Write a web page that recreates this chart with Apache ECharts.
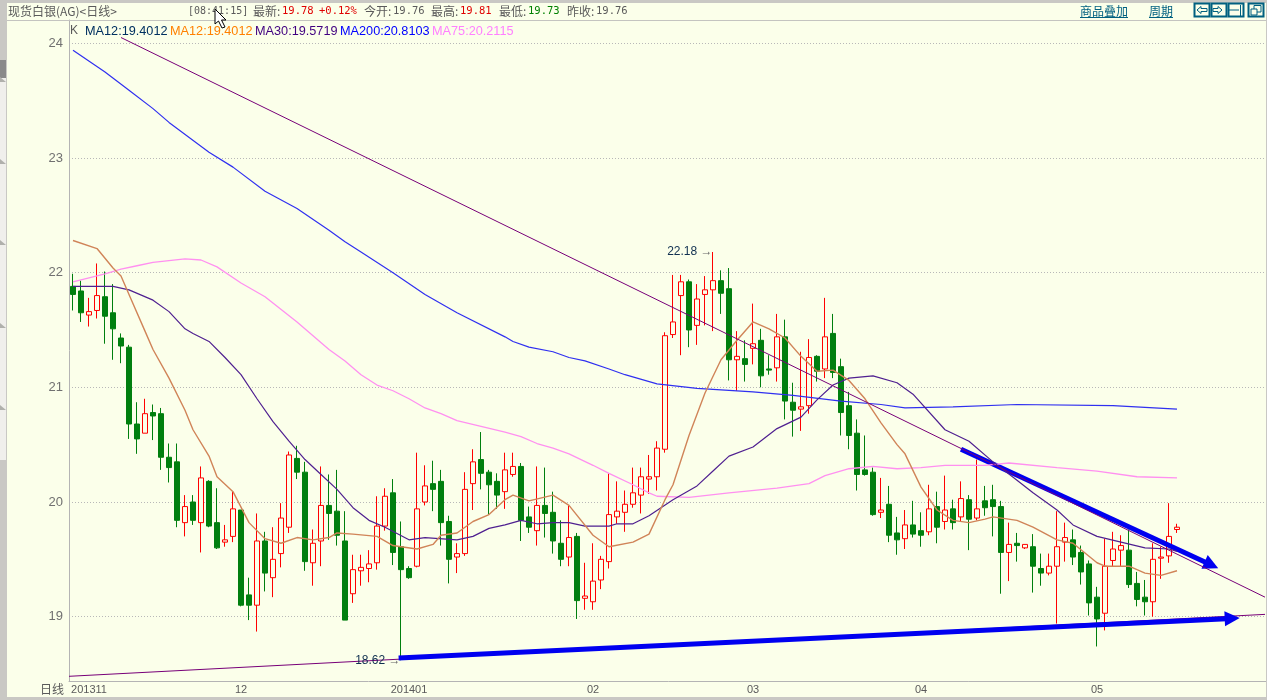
<!DOCTYPE html>
<html>
<head>
<meta charset="utf-8">
<title>现货白银(AG)</title>
<style>
  html, body { margin: 0; padding: 0; background: #c9c8c4; }
  #main { width: 1267px; height: 700px; }
</style>
<script src="https://cdn.jsdelivr.net/npm/echarts@6/dist/echarts.min.js"></script>
</head>
<body>
<div id="main"></div>
<script>
// daily candles
var opens = [21.88,21.84,21.63,21.67,21.79,21.65,21.43,21.35,20.68,20.60,20.78,20.77,20.39,20.35,19.82,20.00,19.82,20.18,19.82,19.65,19.70,19.93,19.19,19.10,19.66,19.34,19.55,19.78,20.38,20.26,19.47,19.66,19.97,19.92,19.66,19.20,19.40,19.42,19.47,19.79,20.08,19.61,19.42,19.44,20.00,20.16,20.18,19.83,19.52,19.55,20.16,20.37,20.26,20.18,20.09,20.24,20.31,19.87,19.75,19.97,19.91,19.64,19.52,19.70,19.16,19.13,19.32,19.48,19.87,19.91,19.98,20.06,20.20,20.22,20.46,21.46,21.80,21.92,21.54,21.81,21.85,21.93,21.86,21.24,21.25,21.34,21.41,21.16,21.17,21.44,20.87,20.81,20.84,21.27,21.16,21.47,21.18,20.84,20.60,20.28,20.26,19.91,19.98,19.73,19.68,19.80,19.75,19.74,19.96,19.83,19.94,19.87,20.02,19.86,20.01,20.02,19.96,19.56,19.64,19.60,19.61,19.42,19.38,19.44,19.65,19.67,19.56,19.46,19.17,19.03,19.49,19.58,19.58,19.29,19.17,19.13,19.51,19.53,19.76];
var closes = [21.81,21.65,21.66,21.80,21.62,21.51,21.36,20.68,20.55,20.77,20.75,20.39,20.30,19.84,19.96,19.84,20.21,19.79,19.60,19.67,19.94,19.10,19.10,19.66,19.38,19.50,19.86,20.41,20.26,19.48,19.64,19.97,19.90,19.71,18.97,19.41,19.43,19.46,19.79,20.05,19.56,19.41,19.34,19.94,20.14,20.11,19.82,19.50,19.55,20.11,20.35,20.25,20.15,20.06,20.28,20.31,19.84,19.78,19.97,19.90,19.66,19.50,19.69,19.14,19.18,19.31,19.50,19.89,19.92,19.98,20.08,20.22,20.22,20.47,21.45,21.57,21.92,21.50,21.77,21.85,21.93,21.82,21.24,21.27,21.20,21.38,21.10,21.15,21.44,20.88,20.80,20.83,21.26,21.14,21.44,21.13,20.78,20.58,20.24,20.24,19.89,19.93,19.71,19.67,19.80,19.72,19.71,19.94,19.78,19.93,19.82,20.03,19.85,19.94,19.95,19.96,19.56,19.63,19.62,19.63,19.44,19.38,19.44,19.61,19.69,19.52,19.39,19.12,18.98,19.44,19.59,19.62,19.28,19.15,19.13,19.50,19.52,19.70,19.78];
var lows = [21.67,21.57,21.53,21.60,21.38,21.24,21.21,20.55,20.42,20.60,20.54,20.28,20.17,19.78,19.70,19.80,19.56,19.78,19.59,19.61,19.65,19.09,18.97,18.87,19.22,19.17,19.43,19.73,20.20,19.40,19.27,19.44,19.67,19.62,18.97,19.12,19.27,19.30,19.41,19.75,19.45,18.62,19.33,19.43,19.97,19.92,19.62,19.29,19.38,19.53,19.93,20.11,19.89,19.94,19.94,20.22,19.66,19.73,19.62,19.69,19.55,19.44,19.44,18.98,19.06,19.06,19.24,19.42,19.81,19.74,19.95,19.90,20.07,20.10,20.43,21.43,21.28,21.35,21.37,21.54,21.49,21.64,21.06,20.97,21.05,21.20,21.00,21.11,21.05,20.72,20.57,20.62,20.77,21.05,21.08,21.08,20.58,20.46,20.10,20.23,19.88,19.86,19.65,19.54,19.59,19.69,19.61,19.71,19.64,19.76,19.76,19.83,19.58,19.84,19.88,19.70,19.20,19.31,19.48,19.59,19.21,19.27,19.36,18.94,19.48,19.45,19.28,19.01,18.74,18.88,19.44,19.44,19.25,19.09,19.01,19.00,19.33,19.47,19.73];
var highs = [21.99,21.93,21.78,22.08,22.01,21.90,21.47,21.37,20.87,20.90,20.85,20.82,20.51,20.51,20.06,20.06,20.31,20.19,20.12,19.80,20.09,19.93,19.34,19.90,19.74,19.78,19.99,20.44,20.49,20.35,19.76,20.31,20.24,20.28,19.92,19.54,19.54,19.58,20.05,20.12,20.20,19.83,19.44,20.43,20.32,20.36,20.28,19.88,19.64,20.26,20.46,20.61,20.28,20.25,20.43,20.43,20.34,19.96,20.31,20.30,20.09,19.84,19.97,19.73,19.47,19.64,19.53,20.25,20.18,20.10,20.30,20.30,20.41,20.53,21.48,21.98,21.98,21.94,21.90,21.97,22.18,22.02,22.04,21.49,21.41,21.73,21.51,21.28,21.64,21.59,21.04,21.31,21.42,21.28,21.78,21.64,21.25,20.96,20.72,20.58,20.30,20.21,20.14,19.87,19.93,20.01,19.91,20.15,20.09,20.23,20.02,20.18,20.06,20.37,20.14,20.15,20.01,19.82,19.73,19.63,19.72,19.55,19.55,19.92,19.82,19.76,19.62,19.49,19.26,19.68,19.74,19.71,19.76,19.39,19.32,19.64,19.61,19.99,19.81];

// moving averages, sampled by eye as [candle index, value]
var ma12 = [[0,22.28],[3,22.21],[5,22.04],[6,21.97],[7,21.81],[9,21.49],[10,21.33],[12,21.08],[14,20.80],[15,20.63],[17,20.40],[18,20.22],[20,20.09],[22,19.82],[24,19.68],[26,19.64],[28,19.69],[30,19.67],[32,19.69],[33,19.73],[35,19.72],[38,19.70],[40,19.62],[41,19.61],[43,19.59],[45,19.63],[46,19.71],[48,19.73],[50,19.83],[52,19.89],[54,20.02],[55,20.06],[57,20.01],[60,20.06],[62,19.97],[65,19.71],[67,19.61],[70,19.65],[72,19.72],[74,20.02],[75,20.15],[77,20.58],[79,20.95],[81,21.24],[83,21.41],[85,21.57],[87,21.51],[89,21.43],[91,21.27],[93,21.14],[95,21.15],[97,21.06],[99,20.90],[101,20.69],[103,20.50],[104,20.42],[106,20.13],[108,19.93],[110,19.84],[112,19.82],[114,19.85],[115,19.87],[118,19.84],[120,19.78],[123,19.67],[125,19.64],[128,19.47],[129,19.44],[132,19.44],[134,19.38],[136,19.36],[138,19.40]];
var ma30 = [[0,21.88],[5,21.88],[7,21.85],[10,21.76],[12,21.66],[14,21.51],[15,21.47],[17,21.40],[19,21.26],[21,21.11],[23,20.90],[25,20.70],[27,20.53],[29,20.37],[31,20.24],[33,20.11],[35,19.95],[37,19.84],[39,19.78],[42,19.67],[44,19.69],[48,19.67],[50,19.70],[52,19.77],[54,19.80],[56,19.84],[58,19.81],[60,19.82],[62,19.82],[64,19.79],[67,19.79],[68,19.81],[70,19.81],[72,19.88],[75,20.02],[78,20.14],[80,20.27],[82,20.40],[85,20.48],[88,20.64],[91,20.74],[93,20.89],[95,21.02],[97,21.08],[100,21.10],[103,21.04],[105,20.94],[109,20.63],[112,20.53],[115,20.35],[118,20.19],[120,20.08],[123,19.93],[125,19.80],[128,19.70],[131,19.65],[134,19.60],[137,19.59],[138,19.57]];
var ma75 = [[0,21.92],[4,21.99],[6,22.03],[8,22.06],[10,22.09],[14,22.12],[16,22.11],[18,22.05],[21,21.91],[24,21.79],[28,21.57],[32,21.33],[34,21.23],[36,21.11],[38,21.02],[40,20.97],[42,20.90],[44,20.82],[46,20.77],[48,20.71],[51,20.66],[54,20.61],[56,20.57],[58,20.51],[60,20.47],[62,20.42],[65,20.32],[67,20.25],[70,20.15],[72,20.08],[73,20.05],[77,20.04],[82,20.08],[88,20.12],[92,20.16],[94,20.23],[97,20.29],[100,20.31],[103,20.29],[106,20.30],[109,20.32],[114,20.32],[117,20.34],[123,20.30],[128,20.27],[133,20.22],[138,20.21]];
var ma200 = [[0,23.94],[4,23.75],[7,23.59],[10,23.43],[12,23.31],[17,23.05],[20,22.92],[24,22.71],[28,22.56],[32,22.37],[34,22.27],[36,22.18],[40,22.00],[44,21.81],[48,21.65],[54,21.44],[55,21.40],[57,21.35],[60,21.31],[62,21.26],[64,21.23],[67,21.16],[69,21.11],[73,21.03],[78,20.99],[85,20.96],[90,20.93],[96,20.88],[101,20.85],[104,20.82],[110,20.83],[118,20.85],[130,20.84],[138,20.81]];

// hand drawn lines on the chart
var fallLine = [[6,24.05],[149,19.17]];
var riseLine = [[-0.5,18.48],[149,19.02]];
var fallArrow = [[111,20.46],[142.3,19.45]];
var riseArrow = [[40.7,18.64],[144.9,18.985]];

var tickIndex = [2,21,42,65,85,106,128];
var tickText = ['201311','12','201401','02','03','04','05'];
var priceTicks = [19,20,21,22,23,24];
var slotCount = 150;

var categories = [];
for (var i = 0; i < slotCount; i++) {
  categories.push(String(i));
}
var candles = opens.map(function (o, n) {
  return [o, closes[n], lows[n], highs[n]];
});

var monoFont = '"DejaVu Sans Mono","Noto Sans CJK SC",monospace';
var cjkFont = '"Noto Sans CJK SC",sans-serif';
var sansFont = '"Liberation Sans",sans-serif';
var grey = '#5a5a5a';
var iconBlue = '#006080';

function label(text, x, y, color, font, size, extra) {
  var style = {
    text: text, x: x, y: y, fill: color,
    font: size + 'px ' + font, verticalAlign: 'middle'
  };
  return Object.assign({ type: 'text', z: 20, style: style }, extra || {});
}
function box(x, y, w, h, fill) {
  return { type: 'rect', z: 15, shape: { x: x, y: y, width: w, height: h }, style: { fill: fill } };
}
function stroke(points, color) {
  return { type: 'polyline', z: 21, shape: { points: points }, style: { stroke: color, fill: null, lineWidth: 1 } };
}
function iconBox(x) {
  return { type: 'rect', z: 20, shape: { x: x + 0.5, y: 3.5, width: 15, height: 13 }, style: { stroke: iconBlue, fill: null, lineWidth: 2 } };
}

var graphics = [
  box(0, 0, 1267, 3, '#c9c8c4'),
  box(0, 20, 1267, 1, '#c4c4c0'),
  box(0, 697, 1267, 3, '#c9c8c4'),
  box(1266, 0, 1, 700, '#c9c8c4'),
  box(0, 0, 7, 700, '#c9c8c4'),
  box(0, 78, 6, 382, '#f0efec'),
  box(0, 60, 6, 18, '#8a8a8a'),
  label('现货白银(AG)<日线>', 8, 11, grey, cjkFont, 12),
  label('[08:41:15]', 188, 11, grey, monoFont, 10),
  label('最新:', 253, 11, grey, cjkFont, 12),
  label('19.78', 282, 11, '#e00000', monoFont, 10.5),
  label('+0.12%', 319, 11, '#e00000', monoFont, 10.5),
  label('今开:', 364, 11, grey, cjkFont, 12),
  label('19.76', 393, 11, grey, monoFont, 10.5),
  label('最高:', 431, 11, grey, cjkFont, 12),
  label('19.81', 460, 11, '#e00000', monoFont, 10.5),
  label('最低:', 499, 11, grey, cjkFont, 12),
  label('19.73', 528, 11, '#008000', monoFont, 10.5),
  label('昨收:', 567, 11, grey, cjkFont, 12),
  label('19.76', 596, 11, grey, monoFont, 10.5),
  label('K', 70, 31, grey, sansFont, 12),
  label('MA12:19.4012', 85, 31, '#003060', sansFont, 12.7),
  label('MA12:19.4012', 170, 31, '#ff8000', sansFont, 12.7),
  label('MA30:19.5719', 255, 31, '#400080', sansFont, 12.7),
  label('MA200:20.8103', 340, 31, '#0000ff', sansFont, 12.7),
  label('MA75:20.2115', 432, 31, '#ff80ff', sansFont, 12.7),
  label('日线', 40, 689, grey, cjkFont, 12),
  label('商品叠加', 1080, 11, iconBlue, cjkFont, 12),
  stroke([[1080, 17.5], [1128, 17.5]], iconBlue),
  label('周期', 1149, 11, iconBlue, cjkFont, 12),
  stroke([[1149, 17.5], [1173, 17.5]], iconBlue),
  iconBox(1194), iconBox(1211), iconBox(1228), iconBox(1248),
  stroke([[1197, 10], [1201, 6.5], [1201, 8.5], [1207, 8.5], [1207, 11.5], [1201, 11.5], [1201, 13.5], [1197, 10]], iconBlue),
  stroke([[1222, 10], [1218, 6.5], [1218, 8.5], [1213, 8.5], [1213, 11.5], [1218, 11.5], [1218, 13.5], [1222, 10]], iconBlue),
  stroke([[1229, 10], [1239, 10]], iconBlue),
  stroke([[1240.5, 5], [1240.5, 16]], iconBlue),
  stroke([[1251, 9], [1251, 15], [1257, 15], [1257, 9], [1251, 9]], iconBlue),
  stroke([[1254, 9], [1254, 5.5], [1261, 5.5], [1261, 12], [1257, 12]], iconBlue),
  {
    type: 'polygon', z: 30,
    shape: { points: [[215, 9], [215, 24], [218.5, 21], [222, 28], [225, 27], [221.5, 20], [226, 20]] },
    style: { fill: '#ffffff', stroke: '#000000', lineWidth: 1 }
  }
];
[80, 162, 243, 326, 408].forEach(function (y) {
  graphics.push({
    type: 'polygon', z: 16,
    shape: { points: [[0, y + 2], [6, y + 2], [0, y - 3]] },
    style: { fill: '#b0b0ac' }
  });
});

function maLine(name, data, color, width) {
  return {
    name: name, type: 'line', xAxisIndex: 1, data: data,
    showSymbol: false, silent: true, z: 5,
    lineStyle: { color: color, width: width }
  };
}
function arrowMark(pair) {
  return [{ coord: pair[0] }, { coord: pair[1] }];
}
function peakLabel(text, x, y) {
  return {
    coord: [x, y], symbol: 'circle', symbolSize: 1, value: text,
    itemStyle: { color: 'transparent' },
    label: {
      show: true, position: 'left', distance: 0,
      formatter: '{v|' + text + '} {a|→}',
      rich: {
        v: { color: '#103050', font: '11px ' + monoFont },
        a: { color: '#666666', font: '11px ' + sansFont }
      }
    }
  };
}

var chart = echarts.init(document.getElementById('main'));
var option = {
  animation: false,
  backgroundColor: '#fbffea',
  grid: { left: 69, top: 20, width: 1200, height: 661, containLabel: false, outerBoundsMode: 'none' },
  graphic: { elements: graphics },
  xAxis: [{
    type: 'category', data: categories, boundaryGap: true,
    axisLine: { onZero: false, lineStyle: { color: '#b4b4b4', width: 1 } },
    axisTick: { show: false },
    splitLine: { show: false },
    axisLabel: {
      color: grey, fontFamily: sansFont, fontSize: 11, margin: 3,
      interval: function (n) { return tickIndex.indexOf(n) >= 0; },
      formatter: function (v, n) { return tickText[tickIndex.indexOf(n)]; }
    }
  }, {
    type: 'value', show: false, min: -0.5, max: slotCount - 0.5, splitLine: { show: false }
  }],
  yAxis: {
    type: 'value', min: 18.439, max: 24.203, position: 'left',
    axisLine: { show: true, onZero: false, lineStyle: { color: '#b4b4b4', width: 1 } },
    axisTick: { show: false, customValues: priceTicks },
    splitLine: { show: true, lineStyle: { color: '#b8b8b8', type: [1, 2], width: 1 } },
    axisLabel: {
      color: '#707070', fontFamily: sansFont, fontSize: 13, margin: 6,
      customValues: priceTicks
    }
  },
  series: [
    {
      name: 'K', type: 'candlestick', data: candles, barWidth: 6, z: 3, silent: true,
      itemStyle: {
        color: '#fbffea', borderColor: '#ff0000',
        color0: '#007f0e', borderColor0: '#007f0e', borderWidth: 1
      }
    },
    maLine('MA200', ma200, '#3030f0', 1.2),
    maLine('MA75', ma75, '#ff90f0', 1.3),
    maLine('MA30', ma30, '#4f2090', 1.2),
    maLine('MA12', ma12, '#d08458', 1.4),
    {
      name: 'fall', type: 'line', xAxisIndex: 1, data: fallLine, showSymbol: false, silent: true, z: 8,
      lineStyle: { color: '#780078', width: 1 },
      markLine: {
        silent: true, animation: false, symbol: ['none', 'triangle'], symbolSize: 15,
        lineStyle: { color: '#0000f0', width: 5, type: 'solid' },
        label: { show: false },
        data: [arrowMark(fallArrow), arrowMark(riseArrow)]
      },
      markPoint: {
        silent: true, animation: false,
        data: [peakLabel('22.18', 80, 22.18), peakLabel('18.62', 41, 18.62)]
      }
    },
    {
      name: 'rise', type: 'line', xAxisIndex: 1, data: riseLine, showSymbol: false, silent: true, z: 4,
      lineStyle: { color: '#780078', width: 1 }
    }
  ]
};
chart.setOption(option);
</script>
</body>
</html>
